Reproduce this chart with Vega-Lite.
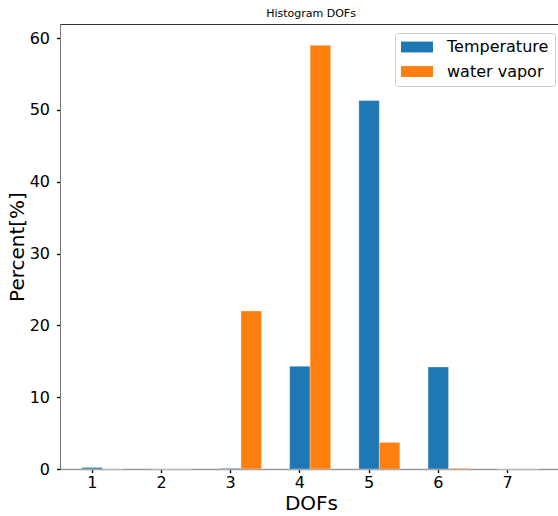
{
  "$schema": "https://vega.github.io/schema/vega-lite/v6.json",
  "width": 502,
  "height": 445,
  "autosize": {"type": "none"},
  "padding": {"left": 60, "top": 24, "right": 0, "bottom": 47},
  "background": "white",
  "title": {
    "text": "Histogram DOFs",
    "fontSize": 11,
    "fontWeight": "normal",
    "font": "DejaVu Sans",
    "color": "#000000",
    "anchor": "middle",
    "offset": 5
  },
  "config": {
    "font": "DejaVu Sans",
    "view": {"stroke": "#333333", "strokeWidth": 1}
  },
  "data": {
    "values": [
      {"dof": 1, "series": "Temperature", "percent": 0.2},
      {"dof": 2, "series": "Temperature", "percent": 0.0},
      {"dof": 3, "series": "Temperature", "percent": 0.1},
      {"dof": 4, "series": "Temperature", "percent": 14.3},
      {"dof": 5, "series": "Temperature", "percent": 51.3},
      {"dof": 6, "series": "Temperature", "percent": 14.2},
      {"dof": 7, "series": "Temperature", "percent": 0.0},
      {"dof": 1, "series": "water vapor", "percent": 0.0},
      {"dof": 2, "series": "water vapor", "percent": 0.0},
      {"dof": 3, "series": "water vapor", "percent": 22.0},
      {"dof": 4, "series": "water vapor", "percent": 59.0},
      {"dof": 5, "series": "water vapor", "percent": 3.7},
      {"dof": 6, "series": "water vapor", "percent": 0.1},
      {"dof": 7, "series": "water vapor", "percent": 0.0}
    ]
  },
  "mark": {"type": "bar", "stroke": "white", "strokeOpacity": 0.4, "strokeWidth": 0.8},
  "encoding": {
    "x": {
      "field": "dof",
      "type": "ordinal",
      "scale": {"paddingInner": 0.1113, "paddingOuter": 0.1828, "align": 0.0613},
      "axis": {
        "title": "DOFs",
        "titleFontSize": 20,
        "titleFontWeight": "normal",
        "titleColor": "#000000",
        "titlePadding": 3,
        "labelAngle": 0,
        "labelFontSize": 16,
        "labelColor": "#000000",
        "labelPadding": 2,
        "tickSize": 3.5,
        "tickWidth": 1.3,
        "tickColor": "#000000",
        "domainColor": "#999999",
        "domainWidth": 1.5
      }
    },
    "xOffset": {
      "field": "series",
      "type": "nominal",
      "scale": {"domain": ["_", "Temperature", "water vapor"], "paddingInner": 0, "paddingOuter": 0}
    },
    "y": {
      "field": "percent",
      "type": "quantitative",
      "scale": {"domain": [0, 61.95], "nice": false, "zero": true},
      "axis": {
        "title": "Percent[%]",
        "titleFontSize": 20,
        "titleFontWeight": "normal",
        "titleColor": "#000000",
        "titlePadding": 2,
        "values": [0, 10, 20, 30, 40, 50, 60],
        "grid": false,
        "labelFontSize": 16,
        "labelColor": "#000000",
        "labelPadding": 7,
        "tickSize": 3.5,
        "tickWidth": 1.3,
        "tickColor": "#000000",
        "domainColor": "#777777",
        "domainWidth": 1
      }
    },
    "color": {
      "field": "series",
      "type": "nominal",
      "scale": {"domain": ["Temperature", "water vapor"], "range": ["#1f77b4", "#ff7f0e"]},
      "legend": {
        "title": null,
        "orient": "none",
        "legendX": 335,
        "legendY": 9,
        "fillColor": "white",
        "strokeColor": "#cccccc",
        "cornerRadius": 3,
        "padding": 6,
        "symbolType": "M-1,-0.68H3V0.68H-1Z",
        "symbolSize": 256,
        "symbolStrokeWidth": 0,
        "symbolOpacity": 1,
        "labelFontSize": 16,
        "labelColor": "#000000",
        "labelOffset": 30,
        "rowPadding": 8.5
      }
    }
  }
}
